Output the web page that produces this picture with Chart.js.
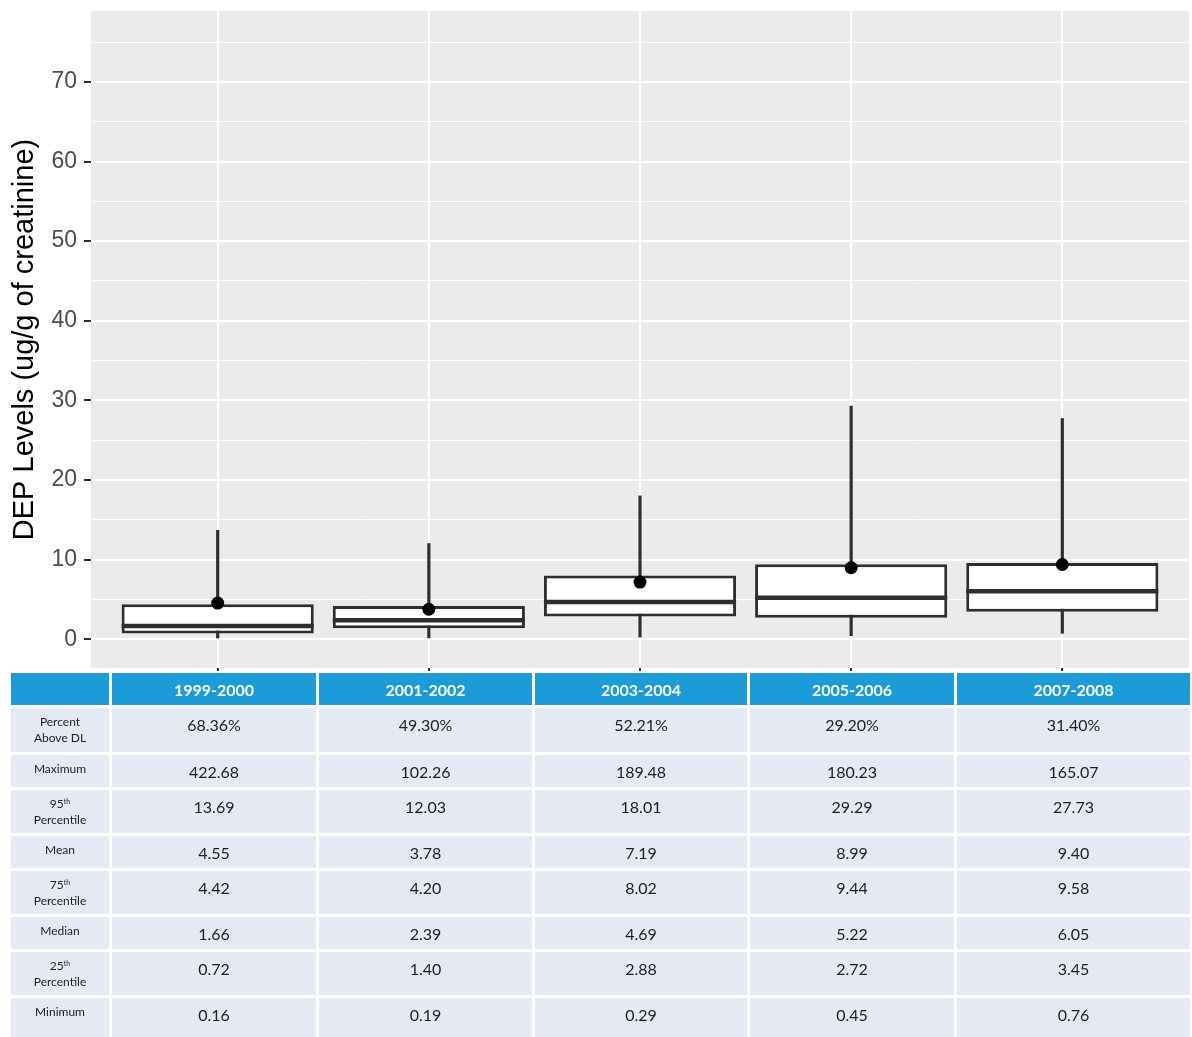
<!DOCTYPE html>
<html>
<head>
<meta charset="utf-8">
<script src="https://cdn.jsdelivr.net/npm/chart.js@4.4.0/dist/chart.umd.min.js"></script>
<style>
  body { margin: 0; width: 1192px; height: 1037px; overflow: hidden; background: #fff; position: relative; }
  #chart { position: absolute; left: 0; top: 0; }
  table.stats {
    position: absolute; left: 8px; top: 670px; width: 1185px;
    border-collapse: separate; border-spacing: 3px; table-layout: fixed;
    font-family: Lato, "Open Sans", sans-serif; color: #1e1e1e;
  }
  table.stats th, table.stats td { padding: 0; box-sizing: border-box; text-align: center; }
  table.stats th { background: #1b9bd7; color: #fff; font-size: 16px; font-weight: bold; vertical-align: middle; height: 32px; }
  table.stats td { background: #e4e9f4; vertical-align: top; font-size: 16px; line-height: 18px; padding-top: 8px; }
  table.stats td.lbl { font-size: 12px; line-height: 16px; padding-top: 6px; }
  table.stats sup { font-size: 7px; line-height: 0; vertical-align: 4px; }
</style>
</head>
<body>
<canvas id="chart" width="1192" height="672"></canvas>
<table class="stats" id="stats"></table>
<script>
// survey cycles
const categories = ['1999-2000', '2001-2002', '2003-2004', '2005-2006', '2007-2008'];

// summary stats per cycle (ug/g creatinine)
const percentAboveDL = [68.36, 49.30, 52.21, 29.20, 31.40];
const maximum = [422.68, 102.26, 189.48, 180.23, 165.07];
const p95 = [13.69, 12.03, 18.01, 29.29, 27.73];
const mean = [4.55, 3.78, 7.19, 8.99, 9.40];
const p75 = [4.42, 4.20, 8.02, 9.44, 9.58];
const median = [1.66, 2.39, 4.69, 5.22, 6.05];
const p25 = [0.72, 1.40, 2.88, 2.72, 3.45];
const minimum = [0.16, 0.19, 0.29, 0.45, 0.76];

const yTicks = [0, 5, 10, 15, 20, 25, 30, 35, 40, 45, 50, 55, 60, 65, 70, 75];

const dark = '#2e2e2e';

// grey ggplot-ish panel
const panelBg = {
  id: 'panelBg',
  beforeDraw(chart) {
    const a = chart.chartArea;
    const ctx = chart.ctx;
    ctx.save();
    ctx.fillStyle = '#ebebeb';
    ctx.fillRect(a.left, a.top, a.right - a.left, a.bottom - a.top);
    ctx.restore();
  }
};

// thick median line across each box
const medianLines = {
  id: 'medianLines',
  afterDatasetDraw(chart, args) {
    if (args.index !== 1) return;
    const meta = chart.getDatasetMeta(1);
    const y = chart.scales.y;
    const ctx = chart.ctx;
    ctx.save();
    ctx.strokeStyle = dark;
    ctx.lineWidth = 4.5;
    meta.data.forEach((bar, i) => {
      const py = y.getPixelForValue(median[i]);
      ctx.beginPath();
      ctx.moveTo(bar.x - bar.width / 2, py);
      ctx.lineTo(bar.x + bar.width / 2, py);
      ctx.stroke();
    });
    ctx.restore();
  }
};

new Chart(document.getElementById('chart'), {
  type: 'bar',
  data: {
    datasets: [
      {
        // whisker: min to 95th percentile
        data: categories.map((c, i) => ({ x: i + 1, y: [minimum[i], p95[i]] })),
        backgroundColor: dark,
        barThickness: 2.5,
        grouped: false,
        order: 2
      },
      {
        // box: 25th to 75th percentile
        data: categories.map((c, i) => ({ x: i + 1, y: [p25[i], p75[i]] })),
        backgroundColor: '#ffffff',
        borderColor: dark,
        borderWidth: 3,
        borderSkipped: false,
        barPercentage: 0.91,
        categoryPercentage: 1,
        grouped: false,
        order: 1
      },
      {
        type: 'line',
        data: categories.map((c, i) => ({ x: i + 1, y: mean[i] })),
        showLine: false,
        pointRadius: 6.5,
        pointBackgroundColor: '#000',
        pointBorderColor: '#000',
        pointBorderWidth: 0,
        order: 0
      }
    ]
  },
  options: {
    responsive: false,
    animation: false,
    devicePixelRatio: 1,
    layout: { autoPadding: false, padding: { left: 0, top: 11, right: 3, bottom: 0 } },
    plugins: { legend: { display: false }, tooltip: { enabled: false } },
    scales: {
      x: {
        type: 'linear',
        min: 0.4,
        max: 5.6,
        offset: false,
        afterBuildTicks: s => { s.ticks = categories.map((c, i) => ({ value: i + 1 })); },
        afterFit: s => { s.height = 4; s.paddingLeft = 0; s.paddingRight = 0; },
        ticks: { display: false },
        border: { display: false },
        grid: { offset: false, color: '#ffffff', lineWidth: 2, tickColor: dark, tickLength: 3, tickWidth: 2 }
      },
      y: {
        min: -3.6,
        max: 78.9,
        afterBuildTicks: s => { s.ticks = yTicks.map(v => ({ value: v })); },
        afterFit: s => { s.width = 91; s.paddingTop = 0; s.paddingBottom = 0; },
        border: { display: false },
        grid: {
          color: '#ffffff',
          lineWidth: c => (c.tick.value % 10 === 0 ? 2 : 1),
          tickColor: c => (c.tick.value % 10 === 0 ? dark : 'rgba(0,0,0,0)'),
          tickLength: 7,
          tickWidth: 2
        },
        ticks: {
          padding: 7,
          color: '#4d4d4d',
          font: { family: '"Liberation Sans", Arial, sans-serif', size: 23 },
          callback: v => (v % 10 === 0 ? v : '')
        },
        title: {
          display: true,
          text: 'DEP Levels (ug/g of creatinine)',
          color: '#000',
          padding: { top: 8, bottom: 0 },
          font: { family: '"Liberation Sans", Arial, sans-serif', size: 29 }
        }
      }
    }
  },
  plugins: [panelBg, medianLines]
});

// stats table under the plot
const fmt = v => v.toFixed(2);
const rows = [
  ['Percent<br>Above DL', percentAboveDL.map(v => fmt(v) + '%'), 44],
  ['Maximum', maximum.map(fmt), 32],
  ['95<sup>th</sup><br>Percentile', p95.map(fmt), 43],
  ['Mean', mean.map(fmt), 32],
  ['75<sup>th</sup><br>Percentile', p75.map(fmt), 43],
  ['Median', median.map(fmt), 32],
  ['25<sup>th</sup><br>Percentile', p25.map(fmt), 43],
  ['Minimum', minimum.map(fmt), 40]
];
const colWidths = [98, 204, 213, 212, 204, 233];

let html = '<colgroup>' + colWidths.map(w => '<col style="width:' + w + 'px">').join('') + '</colgroup>';
html += '<tr><th></th>' + categories.map(c => '<th>' + c + '</th>').join('') + '</tr>';
rows.forEach(r => {
  html += '<tr style="height:' + r[2] + 'px"><td class="lbl" style="height:' + r[2] + 'px">' + r[0] + '</td>' +
    r[1].map(v => '<td style="height:' + r[2] + 'px">' + v + '</td>').join('') + '</tr>';
});
document.getElementById('stats').innerHTML = html;
</script>
</body>
</html>
